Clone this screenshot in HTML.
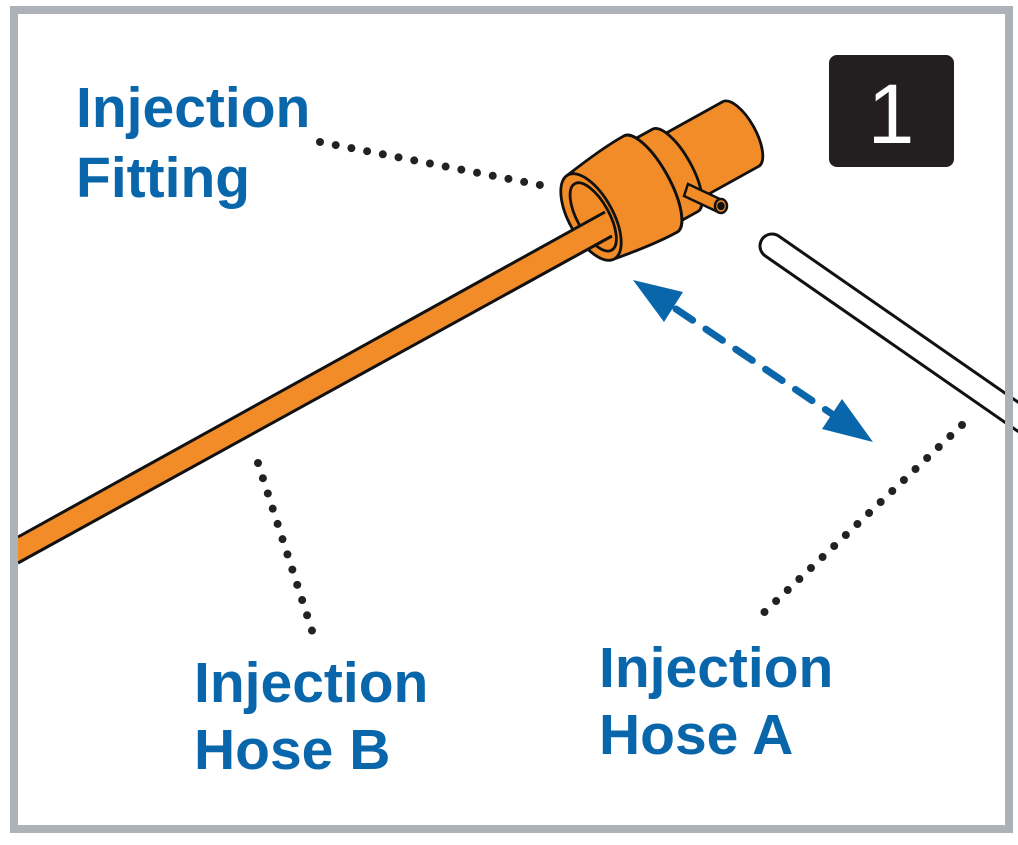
<!DOCTYPE html>
<html><head><meta charset="utf-8"><style>
html,body{margin:0;padding:0;background:#fff;}
body{width:1018px;height:845px;position:relative;overflow:hidden;}
svg{position:absolute;left:0;top:0;}
</style></head><body>
<svg width="1018" height="845" viewBox="0 0 1018 845" xmlns="http://www.w3.org/2000/svg">
<rect x="0" y="0" width="1018" height="845" fill="#fff"/>
<!-- Hose A -->
<line x1="772" y1="246" x2="1040" y2="432" stroke="#111" stroke-width="27" stroke-linecap="round"/>
<line x1="772" y1="246" x2="1040" y2="432" stroke="#fff" stroke-width="21" stroke-linecap="round"/>
<!-- Fitting -->
<g transform="translate(591,217) rotate(-29)" stroke="#111" stroke-width="2.8" fill="#f28c28" stroke-linejoin="round">
  <ellipse cx="171" cy="0" rx="15" ry="37"/>
  <rect x="96" y="-37" width="75" height="74" stroke="none"/>
  <line x1="96" y1="-37" x2="171" y2="-37"/>
  <line x1="96" y1="37" x2="171" y2="37"/>
  <path d="M76,-47 L96,-47 A17,47 0 0 1 96,47 L76,47 Z"/>
  <path d="M0,-48 C25,-52 50,-55 68,-55 A19,55 0 0 1 68,55 C50,55 25,52 0,48 Z"/>
  <path d="M68,-55 A19,55 0 0 1 68,55" fill="none"/>
  <ellipse cx="0" cy="0" rx="22" ry="48"/>
  <ellipse cx="2" cy="1" rx="16" ry="38"/>
</g>
<!-- nipple -->
<g stroke="#111" stroke-width="2.5" fill="#f28c28">
  <path d="M688,184 L722,200 L718,212 L684,196 Z"/>
  <ellipse cx="721" cy="206" rx="6" ry="7"/>
  <ellipse cx="721" cy="206" rx="2.5" ry="3" fill="#111"/>
</g>
<!-- Hose B -->
<polygon points="18,537 605,212 612,236 18,563" fill="#f28c28"/>
<line x1="18" y1="537" x2="605" y2="212" stroke="#111" stroke-width="3"/>
<line x1="18" y1="563" x2="612" y2="236" stroke="#111" stroke-width="3"/>
<!-- dotted leaders -->
<g stroke="#222" stroke-width="8" stroke-linecap="round" stroke-dasharray="0 16" fill="none">
  <line x1="320" y1="142" x2="540" y2="185"/>
  <line x1="258" y1="463" x2="316" y2="643"/>
  <line x1="962" y1="425" x2="755" y2="621"/>
</g>
<!-- dashed double arrow -->
<line x1="676" y1="309" x2="832" y2="414" stroke="#0a66aa" stroke-width="7" stroke-linecap="round" stroke-dasharray="20 16"/>
<polygon points="633,280 683,292 664,322" fill="#0a66aa"/>
<polygon points="873,442 822,429 842,399" fill="#0a66aa"/>
<!-- badge -->
<rect x="829" y="55" width="125" height="112" rx="8" fill="#231f20"/>
<text x="891" y="143" font-family="Liberation Sans, sans-serif" font-size="84" fill="#fff" text-anchor="middle">1</text>
<!-- labels -->
<g font-family="Liberation Sans, sans-serif" font-weight="bold" font-size="57" fill="#0a66aa">
  <text x="76" y="127">Injection</text>
  <text x="76" y="197">Fitting</text>
  <text x="194" y="702">Injection</text>
  <text x="194" y="769">Hose B</text>
  <text x="599" y="687">Injection</text>
  <text x="599" y="754">Hose A</text>
</g>
<!-- frame -->
<rect x="14" y="10" width="995" height="819" fill="none" stroke="#adb2b8" stroke-width="8"/>
</svg>
</body></html>
